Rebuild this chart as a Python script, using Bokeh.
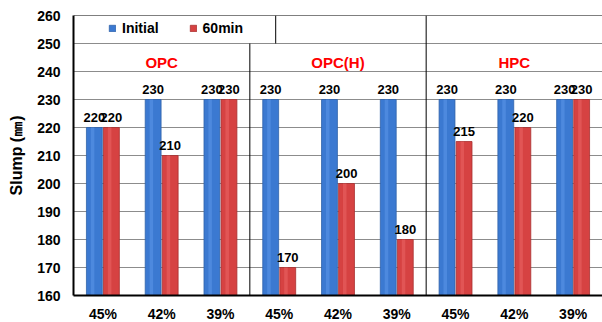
from bokeh.plotting import figure
from bokeh.models import (ColumnDataSource, Range1d, FixedTicker, Legend, LegendItem,
                          Span, Label)
from bokeh.transform import dodge
from bokeh.core.properties import value
from bokeh.embed import file_html
from bokeh.resources import INLINE

groups = ["OPC", "OPC(H)", "HPC"]
ratios = ["45%", "42%", "39%"]
initial = [220, 230, 230, 230, 230, 230, 230, 230, 230]
min60 = [220, 210, 230, 170, 200, 180, 215, 220, 230]
y_ticks = [160, 170, 180, 190, 200, 210, 220, 230, 240, 250, 260]

n = len(initial)
xs = [i + 0.5 for i in range(n)]
tick_labels = [r for g in groups for r in ratios]
src = ColumnDataSource(dict(x=xs, initial=initial, min60=min60,
                            ilab=[str(v) for v in initial], mlab=[str(v) for v in min60]))

FONT = "Liberation Sans"
p = figure(width=602, height=322, output_backend="svg", toolbar_location=None,
           x_range=Range1d(0, n), y_range=Range1d(160, 260),
           frame_width=529, frame_height=280,
           min_border_left=73, min_border_right=0, min_border_top=15, min_border_bottom=27)
p.outline_line_color = None
p.background_fill_color = "white"
p.border_fill_color = "white"

blue, red = "#3b79d1", "#d64242"
BW = 0.27
rb = p.vbar(x=dodge("x", -0.145, range=p.x_range), top="initial", bottom=160, width=BW,
            source=src, fill_color=blue, line_color="#2f62aa", line_width=0.8)
rr = p.vbar(x=dodge("x", 0.145, range=p.x_range), top="min60", bottom=160, width=BW,
            source=src, fill_color=red, line_color="#a83030", line_width=0.8)
# highlights for cylinder look
p.vbar(x=dodge("x", -0.175, range=p.x_range), top="initial", bottom=160, width=0.06,
       source=src, fill_color="#5a95e6", line_color=None, fill_alpha=0.6)
p.vbar(x=dodge("x", 0.115, range=p.x_range), top="min60", bottom=160, width=0.06,
       source=src, fill_color="#e86262", line_color=None, fill_alpha=0.6)

tstyle = dict(text_font_size="13px", text_font_style="bold", text_color="black",
              text_align="center", text_baseline="bottom", source=src,
              text_font=value(FONT))
p.text(x=dodge("x", -0.145, range=p.x_range), y="initial", text="ilab", y_offset=-6, **tstyle)
p.text(x=dodge("x", 0.145, range=p.x_range), y="min60", text="mlab", y_offset=-6, **tstyle)

# group titles
for gi, g in enumerate(groups):
    p.add_layout(Label(x=gi * 3 + 1.5, y=243.3, text=g, text_align="center",
                       text_baseline="middle", text_color="#ff0000", text_font=FONT,
                       text_font_size="15px", text_font_style="bold"))

# grid
p.xgrid.grid_line_color = None
p.ygrid.grid_line_color = "#8c8c8c"
p.ygrid.grid_line_width = 1
p.ygrid.ticker = FixedTicker(ticks=y_ticks)

# separators
p.add_layout(Span(location=260, dimension="width", line_color="black", line_width=1.2))
p.segment(x0=[3, 6, 3.44], y0=[160, 160, 250], x1=[3, 6, 3.44], y1=[250, 260, 260],
          line_color="black", line_width=1)

# axes
p.yaxis.ticker = FixedTicker(ticks=y_ticks)
p.yaxis.axis_label = "Slump (㎜)"
p.yaxis.axis_label_text_font = FONT
p.yaxis.axis_label_text_font_size = "16px"
p.yaxis.axis_label_text_font_style = "bold"
p.yaxis.axis_label_text_color = "black"
p.yaxis.axis_label_standoff = 9
p.yaxis.major_label_text_font = FONT
p.yaxis.major_label_text_font_size = "14px"
p.yaxis.major_label_text_font_style = "bold"
p.yaxis.major_label_text_color = "black"
p.yaxis.major_tick_line_color = None
p.yaxis.major_tick_out = 0
p.yaxis.major_tick_in = 0
p.yaxis.minor_tick_line_color = None
p.yaxis.minor_tick_out = 0
p.yaxis.major_label_standoff = 13
p.yaxis.axis_line_color = "black"
p.yaxis.axis_line_width = 2

p.xaxis.ticker = FixedTicker(ticks=xs)
p.xaxis.major_label_overrides = {x: t for x, t in zip(xs, tick_labels)}
p.xaxis.major_label_text_font = FONT
p.xaxis.major_label_text_font_size = "14px"
p.xaxis.major_label_text_font_style = "bold"
p.xaxis.major_label_text_color = "black"
p.xaxis.major_tick_line_color = None
p.xaxis.major_tick_out = 0
p.xaxis.major_tick_in = 0
p.xaxis.minor_tick_line_color = None
p.xaxis.minor_tick_out = 0
p.xaxis.major_label_standoff = 10
p.xaxis.axis_line_color = "black"
p.xaxis.axis_line_width = 2

legend = Legend(items=[LegendItem(label="Initial", renderers=[rb]),
                       LegendItem(label="60min", renderers=[rr])],
                orientation="horizontal", location=(35, 259),
                background_fill_alpha=0, border_line_color=None,
                label_text_font=FONT, label_text_font_size="14px",
                label_text_font_style="bold", label_text_color="black",
                glyph_width=8, glyph_height=8,
                label_standoff=6, spacing=30, padding=0, margin=0,
                label_height=14)
p.add_layout(legend)

open("out.html", "w").write(file_html(p, INLINE))
